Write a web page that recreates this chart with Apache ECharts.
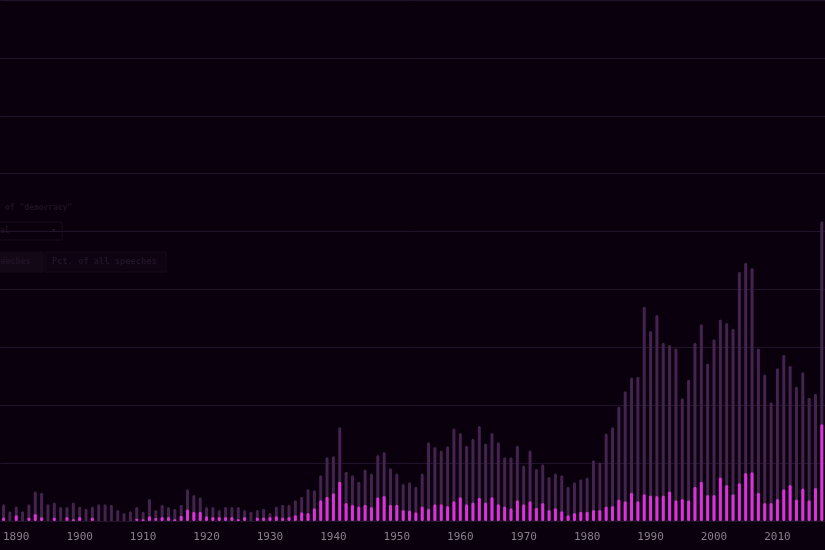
<!DOCTYPE html>
<html>
<head>
<meta charset="utf-8">
<script src="https://cdn.jsdelivr.net/npm/echarts@6/dist/echarts.min.js"></script>
<style>
html,body{margin:0;padding:0;background:#0a000d;}
#chart{width:825px;height:550px;}
</style>
</head>
<body>
<div id="chart"></div>
<script>
var years = [];
for (var y = 1888; y <= 2017; y++) years.push(String(y));

var totalSpeeches = [
  2.9,1.7,2.5,1.7,2.9,5.1,4.9,2.9,3.2,2.4,
  2.4,3.2,2.5,2.1,2.5,2.9,2.9,2.8,1.9,1.4,
  1.7,2.4,1.6,3.8,1.9,2.8,2.4,2.1,2.8,5.5,
  4.5,4.1,2.4,2.4,1.9,2.4,2.4,2.4,1.9,1.6,
  1.9,2.1,1.4,2.5,2.8,2.8,3.6,4.2,5.5,5.3,
  7.9,11.0,11.2,16.2,8.5,7.9,6.8,8.9,8.2,11.4,
  11.9,9.1,8.2,6.4,6.7,5.9,8.2,13.6,12.8,12.2,
  12.9,16.0,15.2,13.0,14.2,16.4,13.4,15.2,13.6,11.0,
  11.0,13.0,9.6,12.2,9.0,9.8,7.6,8.2,7.9,5.9,
  6.7,7.2,7.5,10.5,10.1,15.1,16.2,19.8,22.4,24.8,
  24.9,37.0,32.8,35.6,30.8,30.4,29.8,21.2,24.4,30.8,
  34.0,27.2,31.4,34.8,34.2,33.2,43.0,44.6,43.7,29.8,
  25.3,20.5,26.4,28.7,26.8,23.2,25.7,21.3,22.0,51.8
];

var democracySpeeches = [
  0.6,0,1.0,0,0.6,1.2,0.7,0,0.6,0,
  0.7,0.3,0.7,0,0.6,0,0,0,0,0,
  0,0.4,0.3,0.8,0.5,0.7,0.7,0.3,0.9,2.0,
  1.6,1.6,0.8,0.7,0.7,0.7,0.7,0.3,0.7,0,
  0.6,0.6,0.7,0.8,0.6,0.7,1.0,1.5,1.4,2.2,
  3.6,4.2,4.8,6.8,3.1,2.8,2.5,2.8,2.4,4.1,
  4.3,2.8,2.8,1.9,1.8,1.5,2.5,2.1,2.9,2.9,
  2.6,3.4,4.1,2.9,3.2,4.0,3.2,4.1,2.9,2.5,
  2.2,3.6,2.9,3.4,2.3,3.1,1.9,2.2,1.7,1.0,
  1.4,1.6,1.6,1.9,1.9,2.5,2.6,3.7,3.4,4.9,
  3.4,4.6,4.4,4.3,4.4,5.1,3.6,3.8,3.6,5.9,
  6.8,4.5,4.5,7.5,6.2,4.6,6.5,8.3,8.4,4.9,
  3.1,3.1,3.8,5.5,6.2,3.7,5.6,3.6,5.7,16.7
];

var uiTitle = 'of "democracy"';
var uiSelect = 'al';
var uiButtons = ['speeches', 'Pct. of all speeches'];

var chart = echarts.init(document.getElementById('chart'));
var mono = '"DejaVu Sans Mono", "Liberation Mono", monospace';

chart.setOption({
  backgroundColor: '#0a000d',
  animation: false,
  grid: {left: 0, right: 0, top: -2, bottom: 29, containLabel: false},
  xAxis: {
    type: 'category',
    data: years,
    axisLine: {show: false},
    axisTick: {show: false},
    axisLabel: {
      interval: function (i, v) { return Number(v) % 10 === 0; },
      color: '#8c7d90',
      fontFamily: mono,
      fontSize: 11,
      margin: 11
    }
  },
  yAxis: {
    type: 'value',
    min: 0, max: 90, interval: 10,
    axisLabel: {show: false},
    axisLine: {show: false},
    axisTick: {show: false},
    splitLine: {lineStyle: {color: '#22132a', width: 1}}
  },
  series: [
    {
      name: 'All speeches',
      type: 'bar',
      data: totalSpeeches,
      barWidth: 3,
      barGap: '-100%',
      itemStyle: {color: '#45234f', borderRadius: [1.5, 1.5, 0, 0]}
    },
    {
      name: 'Democracy',
      type: 'bar',
      data: democracySpeeches,
      barWidth: 3,
      barGap: '-100%',
      itemStyle: {color: '#df30de', borderRadius: [1.5, 1.5, 1.5, 1.5]}
    }
  ],
  graphic: [
    {type: 'text', left: 5, top: 204, style: {text: uiTitle, fill: '#1f1224', font: 'bold 8px ' + mono}},
    {type: 'rect', shape: {x: -10, y: 222, width: 72, height: 18}, style: {fill: 'transparent', stroke: '#180c1d', lineWidth: 1}},
    {type: 'text', left: 0, top: 227, style: {text: uiSelect, fill: '#1d1022', font: 'bold 8px ' + mono}},
    {type: 'text', left: 51, top: 226, style: {text: '\u25BE', fill: '#24152a', font: '9px ' + mono}},
    {type: 'rect', shape: {x: -10, y: 252, width: 53, height: 20}, style: {fill: '#120816', stroke: '#170b1c'}},
    {type: 'text', left: -10, top: 257, style: {text: uiButtons[0], fill: '#221426', font: 'bold 8.5px ' + mono}},
    {type: 'rect', shape: {x: 45, y: 252, width: 121, height: 20}, style: {fill: '#0d0311', stroke: '#150a1a'}},
    {type: 'text', left: 52, top: 257, style: {text: uiButtons[1], fill: '#221426', font: 'bold 8.7px ' + mono}}
  ]
});
</script>
</body>
</html>
